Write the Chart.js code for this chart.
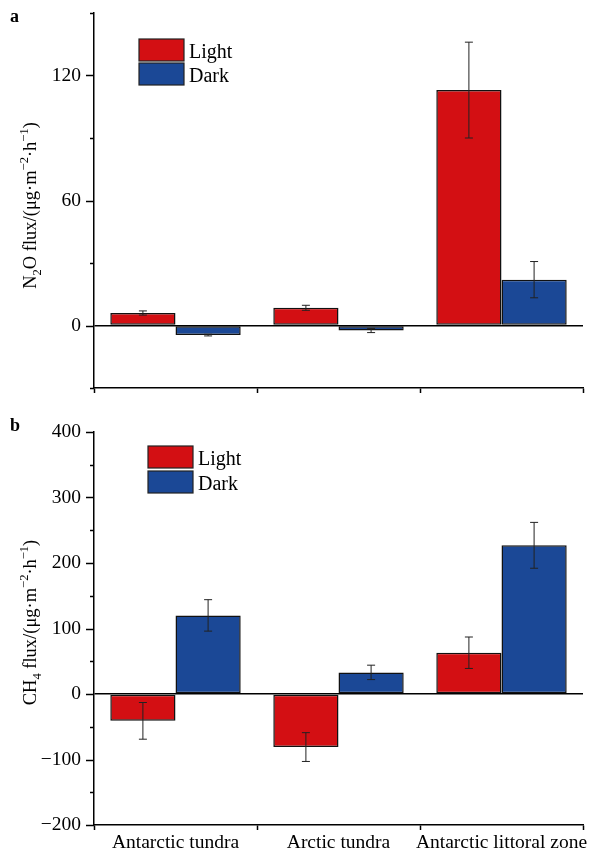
<!DOCTYPE html>
<html>
<head>
<meta charset="utf-8">
<script src="https://cdn.jsdelivr.net/npm/chart.js@4/dist/chart.umd.min.js"></script>
<style>
  body { margin: 0; background: #fff; }
  #wrap { position: relative; width: 599px; height: 854px; }
  canvas { position: absolute; left: 0; }
  #ca { top: 0; }
  #cb { top: 400px; }
</style>
</head>
<body>
<div id="wrap">
  <canvas id="ca" width="599" height="417"></canvas>
  <canvas id="cb" width="599" height="454"></canvas>
</div>
<script>
const categories = ["Antarctic tundra", "Arctic tundra", "Antarctic littoral zone"];
const seriesNames = ["Light", "Dark"];

// panel a: N2O flux
const n2oLight = [6, 8.5, 113];
const n2oLightErr = [1, 1.2, 23];
const n2oDark = [-4.6, -2.4, 22];
const n2oDarkErr = [0.4, 1, 8.7];
const n2oTicks = [-30, 0, 30, 60, 90, 120, 150];
const n2oLabeled = [0, 60, 120];

// panel b: CH4 flux
const ch4Light = [-41, -81, 63];
const ch4LightErr = [28, 22, 24];
const ch4Dark = [120, 33, 227];
const ch4DarkErr = [24, 11, 35];
const ch4Ticks = [-200, -150, -100, -50, 0, 50, 100, 150, 200, 250, 300, 350, 400];
const ch4Labeled = [-200, -100, 0, 100, 200, 300, 400];

const RED = "#d30f13";
const BLUE = "#1b4896";
const FONT = "'Liberation Serif', 'Times New Roman', serif";

Chart.defaults.font.family = FONT;
Chart.defaults.color = "#000";

// error bars, y-axis ticks, legend, y title, panel letter
const extras = {
  id: "extras",
  afterDatasetsDraw(chart, args, opts) {
    const ctx = chart.ctx;
    const ys = chart.scales.y;
    ctx.save();
    ctx.strokeStyle = "#222";
    ctx.lineWidth = 1;
    chart.data.datasets.forEach((ds, i) => {
      const meta = chart.getDatasetMeta(i);
      meta.data.forEach((el, j) => {
        const v = ds.data[j], e = ds.err[j];
        const y1 = ys.getPixelForValue(v + e);
        const y2 = ys.getPixelForValue(v - e);
        ctx.beginPath();
        ctx.moveTo(el.x, y1); ctx.lineTo(el.x, y2);
        ctx.moveTo(el.x - 4, y1); ctx.lineTo(el.x + 4, y1);
        ctx.moveTo(el.x - 4, y2); ctx.lineTo(el.x + 4, y2);
        ctx.stroke();
      });
    });
    ctx.restore();
  },
  afterDraw(chart, args, opts) {
    const ctx = chart.ctx;
    const ys = chart.scales.y;
    const area = chart.chartArea;
    ctx.save();
    // y axis tick marks
    ctx.strokeStyle = "#000";
    ctx.lineWidth = 1.5;
    opts.ticks.forEach(t => {
      const y = Math.round(ys.getPixelForValue(t)) + 0.5;
      const len = opts.labeled.includes(t) ? 8 : 4;
      ctx.beginPath();
      ctx.moveTo(area.left - len, y);
      ctx.lineTo(area.left, y);
      ctx.stroke();
    });
    // legend
    ctx.font = "20px " + FONT;
    ctx.textBaseline = "alphabetic";
    chart.data.datasets.forEach((ds, i) => {
      const x = opts.legend.x, y = opts.legend.y + i * opts.legend.step;
      ctx.fillStyle = ds.backgroundColor;
      ctx.fillRect(x, y, opts.legend.w, opts.legend.h);
      ctx.strokeStyle = "#222";
      ctx.lineWidth = 1.2;
      ctx.strokeRect(x, y, opts.legend.w, opts.legend.h);
      ctx.fillStyle = "#000";
      ctx.fillText(ds.label, x + opts.legend.w + 5, y + opts.legend.h - 3);
    });
    // panel letter
    ctx.font = "bold 18px " + FONT;
    ctx.fillText(opts.letter, 10, opts.letterY);
    // y title with sub/superscripts
    const parts = opts.title;
    ctx.translate(opts.titleX, (area.top + area.bottom) / 2 + opts.titleShift);
    ctx.rotate(-Math.PI / 2);
    let total = 0;
    parts.forEach(p => {
      ctx.font = (p[1] ? "12.5px " : "18.5px ") + FONT;
      total += ctx.measureText(p[0]).width;
    });
    let x = -total / 2;
    parts.forEach(p => {
      ctx.font = (p[1] ? "12.5px " : "18.5px ") + FONT;
      const dy = p[1] === "sub" ? 5 : p[1] === "sup" ? -8 : 0;
      ctx.fillText(p[0], x, dy);
      x += ctx.measureText(p[0]).width;
    });
    ctx.restore();
  }
};

function makeChart(id, light, lightErr, dark, darkErr, yMin, yMax, ticks, labeled, cfg) {
  return new Chart(document.getElementById(id), {
    type: "bar",
    data: {
      labels: categories,
      datasets: [
        { label: seriesNames[0], data: light, err: lightErr, backgroundColor: RED,
          borderColor: "#111", borderWidth: 1.5, borderSkipped: false },
        { label: seriesNames[1], data: dark, err: darkErr, backgroundColor: BLUE,
          borderColor: "#111", borderWidth: 1.5, borderSkipped: false }
      ]
    },
    options: {
      responsive: false,
      animation: false,
      categoryPercentage: 0.8,
      barPercentage: 1.0,
      layout: { padding: { left: 0, right: 16, top: cfg.top, bottom: 0 } },
      plugins: {
        legend: { display: false },
        tooltip: { enabled: false },
        extras: {
          ticks: ticks, labeled: labeled, legend: cfg.legend,
          letter: cfg.letter, letterY: cfg.letterY, title: cfg.title,
          titleX: 36, titleShift: cfg.titleShift
        }
      },
      scales: {
        x: {
          grid: { offset: true, drawOnChartArea: false, drawTicks: true, tickLength: 5,
                  tickColor: "#000", tickWidth: 1.5 },
          border: { color: "#000", width: 1.5 },
          ticks: { color: cfg.xLabelColor, font: { size: 19.5 }, padding: 1, maxRotation: 0, autoSkip: false },
          afterFit: s => { s.height = 29; }
        },
        y: {
          min: yMin, max: yMax,
          afterBuildTicks: s => { s.ticks = labeled.map(v => ({ value: v })); },
          grid: {
            drawTicks: false,
            color: c => c.tick && c.tick.value === 0 ? "#000" : "rgba(0,0,0,0)",
            lineWidth: 1.5
          },
          border: { color: "#000", width: 1.5 },
          ticks: { font: { size: 19.5 }, padding: 13, callback: v => v < 0 ? "\u2212" + Math.abs(v) : v },
          afterFit: s => { s.width = 94; s.paddingTop = 0; s.paddingBottom = 0; }
        }
      }
    },
    plugins: [extras]
  });
}

makeChart("ca", n2oLight, n2oLightErr, n2oDark, n2oDarkErr, -30, 150, n2oTicks, n2oLabeled, {
  top: 13, xLabelColor: "rgba(0,0,0,0)",
  legend: { x: 139, y: 39, w: 45, h: 22, step: 24 },
  letter: "a", letterY: 22,
  title: [["N"], ["2", "sub"], ["O flux/(\u03bcg\u00b7m"], ["\u22122", "sup"], ["\u00b7h"], ["\u22121", "sup"], [")"]],
  titleShift: 5
});

makeChart("cb", ch4Light, ch4LightErr, ch4Dark, ch4DarkErr, -200, 400, ch4Ticks, ch4Labeled, {
  top: 32, xLabelColor: "#000",
  legend: { x: 148, y: 46, w: 45, h: 22, step: 25 },
  letter: "b", letterY: 31,
  title: [["CH"], ["4", "sub"], [" flux/(\u03bcg\u00b7m"], ["\u22122", "sup"], ["\u00b7h"], ["\u22121", "sup"], [")"]],
  titleShift: -6
});
</script>
</body>
</html>
